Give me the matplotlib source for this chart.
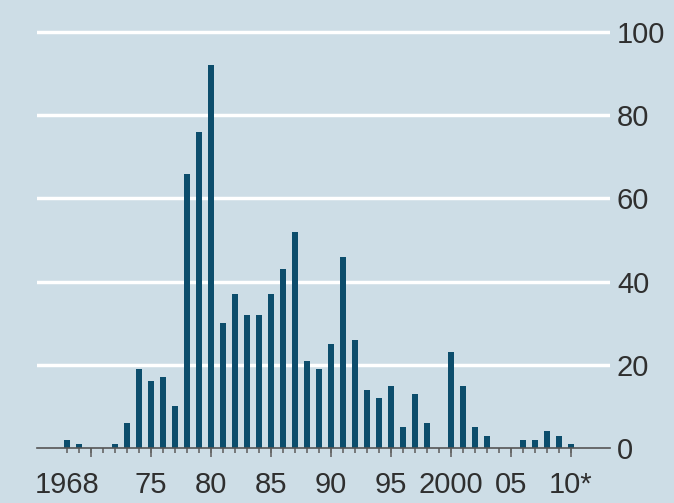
import numpy as np
import matplotlib.pyplot as plt

# number per year, 1968-2010 (2010 partial)
years = np.arange(1968, 2011)
counts = [2, 1, 0, 0, 1, 6, 19, 16, 17, 10,
          66, 76, 92, 30, 37, 32, 32, 37, 43, 52,
          21, 19, 25, 46, 26, 14, 12, 15, 5, 13,
          6, 0, 23, 15, 5, 3, 0, 0, 2, 2,
          4, 3, 1]
label_years = [1968, 1975, 1980, 1985, 1990, 1995, 2000, 2005, 2010]
label_text = ['1968', '75', '80', '85', '90', '95', '2000', '05', '10*']
y_ticks = [0, 20, 40, 60, 80, 100]

bg = '#cddde6'
bar_col = '#0c4d6c'
txt = '#2f2f2f'

plt.rcParams['font.family'] = ['Liberation Sans', 'DejaVu Sans']

fig = plt.figure(figsize=(6.74, 5.03), dpi=100, facecolor=bg)
ax = fig.add_axes([37 / 674, 55 / 503, 573 / 674, 420 / 503])
ax.set_facecolor(bg)

ax.bar(years, counts, width=0.56, color=bar_col, zorder=3)

ax.set_xlim(1965.5, 2013.25)
ax.set_ylim(0, 101)

# gridlines
for yv in y_ticks[1:]:
    ax.axhline(yv, color='white', lw=2.5, zorder=1)

for s in ['top', 'right', 'left']:
    ax.spines[s].set_visible(False)
ax.spines['bottom'].set_color('#555555')
ax.spines['bottom'].set_linewidth(1.2)
ax.spines['bottom'].set_zorder(4)

# y labels on the right
ax.yaxis.tick_right()
ax.set_yticks(y_ticks)
ax.set_yticklabels([str(v) for v in y_ticks])
ax.tick_params(axis='y', length=0, pad=5, labelsize=21, labelcolor=txt)

# x ticks: short every year, long every five
ax.set_xticks(label_years)
ax.set_xticklabels(label_text)
ax.set_xticks(years, minor=True)
ax.tick_params(axis='x', which='both', direction='out', length=3.5, width=1.2,
               color='#666666', pad=13, labelsize=21, labelcolor=txt)
sec = ax.secondary_xaxis('bottom')
sec.set_xticks(np.arange(1970, 2011, 5))
sec.set_xticklabels([])
sec.tick_params(axis='x', length=6.5, width=1.2, color='#666666')
sec.spines['bottom'].set_visible(False)

fig.savefig('out.png', dpi=100, facecolor=bg)
